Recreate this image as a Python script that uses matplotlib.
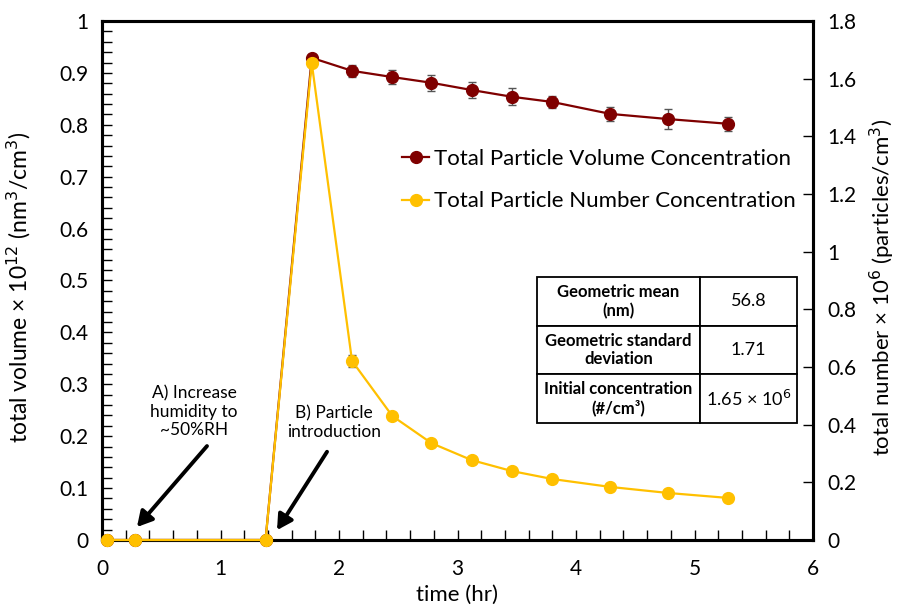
import matplotlib
matplotlib.use("Agg")
import matplotlib.pyplot as plt
from matplotlib.ticker import MultipleLocator, FuncFormatter

plt.rcParams['font.family'] = ['Lato', 'DejaVu Sans']

time_hr = [0.04, 0.28, 1.38, 1.77, 2.11, 2.45, 2.78, 3.12, 3.46, 3.80, 4.29, 4.78, 5.28]
volume = [0, 0, 0, 0.929, 0.904, 0.892, 0.881, 0.867, 0.854, 0.844, 0.821, 0.811, 0.802]
volume_err = [0, 0, 0, 0.008, 0.012, 0.013, 0.015, 0.016, 0.016, 0.012, 0.013, 0.02, 0.013]
number = [0, 0, 0, 1.654, 0.621, 0.430, 0.336, 0.277, 0.239, 0.2115, 0.184, 0.163, 0.146]
number_err = [0, 0, 0, 0.01, 0.02, 0.005, 0.005, 0.004, 0.004, 0.004, 0.003, 0.003, 0.003]

table_rows = [["Geometric mean\n(nm)", "56.8"],
              ["Geometric standard\ndeviation", "1.71"],
              ["Initial concentration\n(#/cm³)", "1.65 × 10$^{6}$"]]

red = "#7F0000"
yellow = "#FFC000"

fig = plt.figure(figsize=(8.98, 6.07), dpi=100)
ax = fig.add_axes([102/898, 1-540/607, (813-102)/898, (540-21)/607])
ax2 = ax.twinx()

ax.set_xlim(0, 6)
ax.set_ylim(0, 1)
ax2.set_ylim(0, 1.8)

gfmt = FuncFormatter(lambda v, p: "%g" % round(v, 3))
ax.xaxis.set_major_locator(MultipleLocator(1))
ax.xaxis.set_minor_locator(MultipleLocator(0.2))
ax.yaxis.set_major_locator(MultipleLocator(0.1))
ax.yaxis.set_minor_locator(MultipleLocator(0.02))
ax.yaxis.set_major_formatter(gfmt)
ax2.yaxis.set_major_locator(MultipleLocator(0.2))
ax2.yaxis.set_major_formatter(gfmt)

for a in (ax, ax2):
    for s in a.spines.values():
        s.set_linewidth(2.2)
    a.tick_params(which='both', direction='in', width=1.0, labelsize=15)
    a.tick_params(which='major', length=7)
    a.tick_params(which='minor', length=7)
ax.tick_params(axis='x', pad=14)
ax.tick_params(axis='y', pad=10)
ax2.tick_params(axis='y', pad=10)

ax.set_zorder(2)
ax.patch.set_visible(False)
ax2.set_zorder(3)
ax2.patch.set_visible(False)

lv, = ax.plot(time_hr, volume, '-o', color=red, lw=1.6, ms=8.5,
              label="Total Particle Volume Concentration", zorder=3, clip_on=False)
ax.errorbar(time_hr, volume, yerr=volume_err, fmt='none', ecolor='#555555',
            elinewidth=1, capsize=3, capthick=1, zorder=2)

ln, = ax2.plot(time_hr, number, '-o', color=yellow, lw=1.6, ms=8.5,
               label="Total Particle Number Concentration", zorder=3, clip_on=False)
ax2.errorbar(time_hr, number, yerr=number_err, fmt='none', ecolor='#555555',
             elinewidth=1, capsize=3, capthick=1, zorder=2)

ax.set_xlabel("time (hr)", fontsize=16, labelpad=4)
ax.set_ylabel("total volume × 10$^{12}$ (nm$^3$/cm$^3$)", fontsize=16.5)
ax.yaxis.set_label_coords(-0.097, 0.487)
ax2.set_ylabel("total number × 10$^{6}$ (particles/cm$^{3}$)", fontsize=16)
ax2.yaxis.set_label_coords(1.077, 0.487)

ax2.legend(handles=[lv, ln], loc='upper left', bbox_to_anchor=(0.41, 0.77),
           frameon=False, fontsize=16, handlelength=1.2, handletextpad=0.2,
           labelspacing=1.0, borderaxespad=0)

# annotations
ax.text(0.776, 0.247, "A) Increase\nhumidity to\n~50%RH", ha='center', va='center',
        fontsize=12.5, linespacing=1.15, zorder=6)
ax.text(1.958, 0.226, "B) Particle\nintroduction", ha='center', va='center',
        fontsize=12.5, linespacing=1.15, zorder=6)
arrow = dict(arrowstyle='-|>,head_length=0.9,head_width=0.5',
             color='black', lw=2.8, shrinkA=0, shrinkB=0)
ax.annotate("", xy=(0.295, 0.025), xytext=(0.886, 0.181), arrowprops=arrow, zorder=6)
ax.annotate("", xy=(1.477, 0.019), xytext=(1.899, 0.170), arrowprops=arrow, zorder=6)

# table
tab = ax.table(cellText=table_rows, cellLoc='center',
               colWidths=[163/711, 97/711],
               bbox=[(537-102)/711, (540-423)/519, 260/711, 146/519])
tab.auto_set_font_size(False)
tab.set_fontsize(12)
for (r, c), cell in tab.get_celld().items():
    cell.set_linewidth(1.3)
    if c == 0:
        cell.get_text().set_fontweight('bold')
    else:
        cell.get_text().set_fontsize(13)
tab.set_zorder(7)

fig.savefig("out.png", dpi=100)
